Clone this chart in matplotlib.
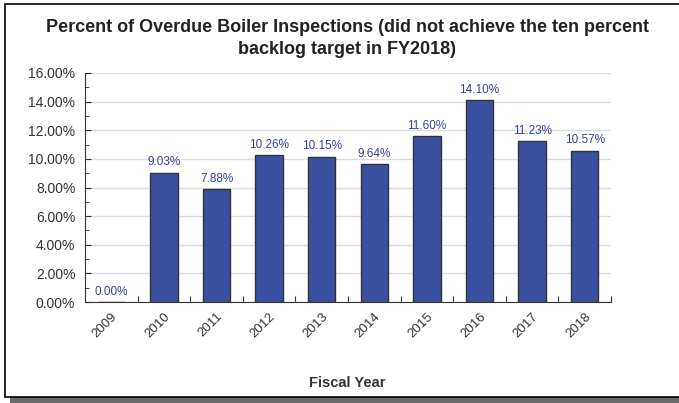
import matplotlib.pyplot as plt
from matplotlib.patches import Rectangle
from matplotlib.ticker import MultipleLocator, FuncFormatter
from matplotlib.transforms import ScaledTranslation

# data
years = ["2009", "2010", "2011", "2012", "2013", "2014", "2015", "2016", "2017", "2018"]
pct = [0.00, 9.03, 7.88, 10.26, 10.15, 9.64, 11.60, 14.10, 11.23, 10.57]

plt.rcParams['font.family'] = ['Liberation Sans', 'DejaVu Sans']

W, H = 679, 403
fig = plt.figure(figsize=(W / 100, H / 100), dpi=100)
ax = fig.add_axes([85 / W, 1 - 302 / H, (611 - 85) / W, (302 - 73) / H])
ax.patch.set_alpha(0)

# frame + shadow (behind the axes)
fig.patches.append(Rectangle((10 / W, 0), 1, 6 / H, transform=fig.transFigure,
                             facecolor='#6b6b6b', edgecolor='none', zorder=-3))
fig.patches.append(Rectangle((5 / W, 6 / H), 1, 1 - 10 / H, transform=fig.transFigure,
                             facecolor='white', edgecolor='black', lw=1.2, zorder=-2))

x = range(len(years))
ax.bar(x, pct, width=0.52, color='#3a50a0', edgecolor='#333333', lw=1, zorder=3)
for i, v in enumerate(pct):
    ax.text(i, v + 0.3, f"{v:.2f}%", ha='center', va='bottom',
            fontsize=8.5, color='#3a3f96', zorder=4)

ax.set_xlim(-0.5, len(years) - 0.5)
ax.set_ylim(0, 16)
ax.yaxis.set_major_locator(MultipleLocator(2))
ax.yaxis.set_minor_locator(MultipleLocator(1))
ax.yaxis.set_major_formatter(FuncFormatter(lambda v, p: f"{v:.2f}%"))
ax.grid(axis='y', color='#dddddd', lw=1, zorder=0)

ax.set_xticks([i - 0.5 for i in range(1, len(years) + 1)], minor=False)
ax.set_xticklabels([])
ax.set_xticks(list(x), minor=True)
ax.set_xticklabels(years, minor=True, rotation=45, ha='right', va='top',
                   fontsize=9.5, color='#333333', rotation_mode='anchor')
shift = ScaledTranslation(-6 / 100, -4 / 100, fig.dpi_scale_trans)
for lbl in ax.get_xticklabels(minor=True):
    lbl.set_transform(lbl.get_transform() + shift)
ax.tick_params(axis='x', which='minor', length=0, pad=6)
ax.tick_params(axis='x', which='major', direction='in', length=4, color='#333333')
ax.tick_params(axis='y', which='both', direction='in', color='#333333',
               labelsize=10, labelcolor='#333333', pad=7)
ax.tick_params(axis='y', which='major', length=4)
ax.tick_params(axis='y', which='minor', length=3)

for s in ['top', 'right']:
    ax.spines[s].set_visible(False)
for s in ['left', 'bottom']:
    ax.spines[s].set_color('#333333')

fig.text(347 / W, 1 - 27 / H, "Percent of Overdue Boiler Inspections (did not achieve the ten percent",
         ha='center', va='center', fontsize=13, fontweight='bold', color='#222222')
fig.text(347 / W, 1 - 50 / H, "backlog target in FY2018)",
         ha='center', va='center', fontsize=13, fontweight='bold', color='#222222')
fig.text(347 / W, 1 - 383 / H, "Fiscal Year", ha='center', va='center',
         fontsize=10.5, fontweight='bold', color='#333333')

fig.savefig("out.png", dpi=100)
